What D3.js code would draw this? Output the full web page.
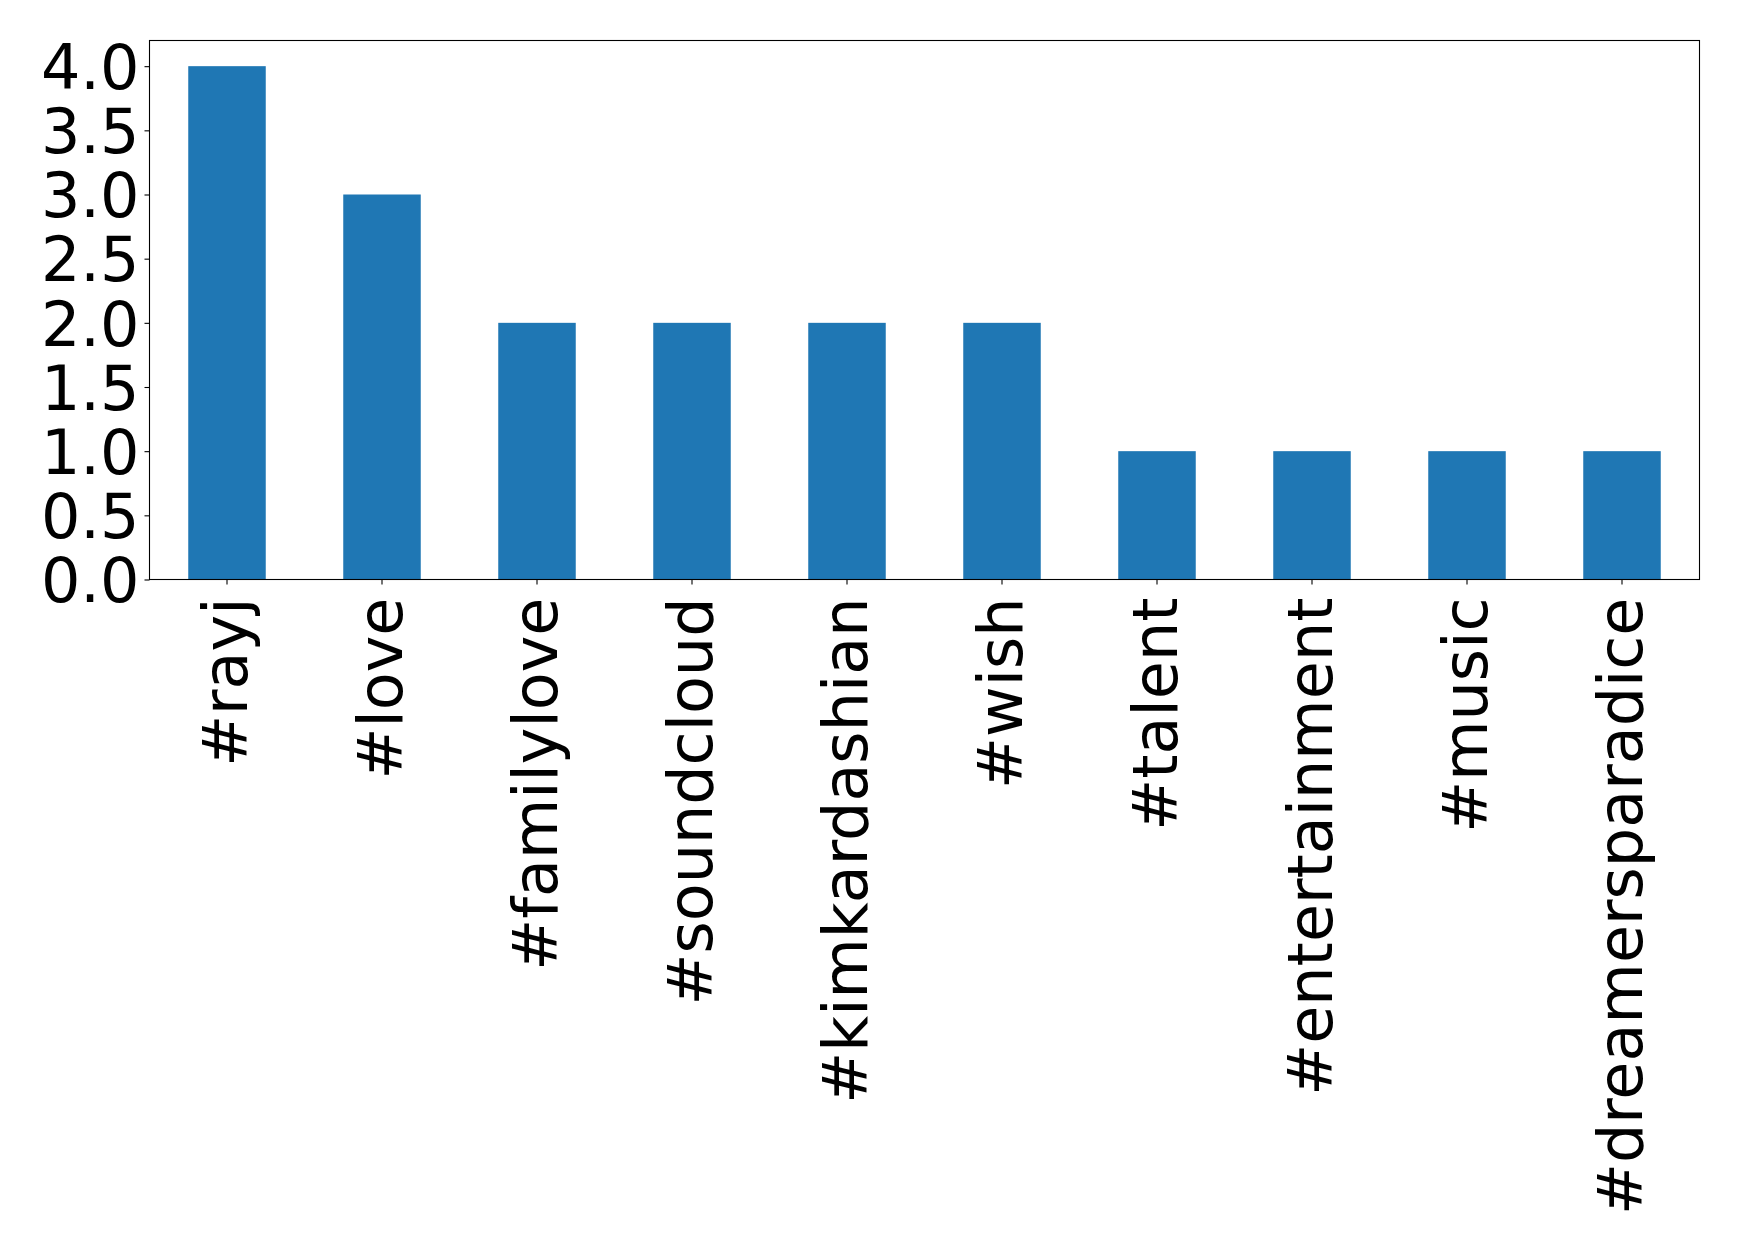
<!DOCTYPE html>
<html><head><meta charset="utf-8">
<script src="https://cdn.jsdelivr.net/npm/d3@7"></script>
<style>html,body{margin:0;padding:0;background:#fff;}svg{display:block;}</style>
</head><body>
<svg id="chart" width="1739" height="1251"></svg>
<script>
const categories = ["#rayj","#love","#familylove","#soundcloud","#kimkardashian","#wish","#talent","#entertainment","#music","#dreamersparadice"];
const values = [4,3,2,2,2,2,1,1,1,1];
const yTicks = [0,0.5,1,1.5,2,2.5,3,3.5,4];

const svg = d3.select("#chart");
const L = 149.5, R = 1699.5, T = 40.5, B = 579.5;
const font = "DejaVu Sans, sans-serif";

const x = d3.scaleBand().domain(categories).range([L, R]).paddingInner(0.5).paddingOuter(0.25);
const y = d3.scaleLinear().domain([0, 4.2]).range([B, T]);

svg.append("g").selectAll("rect").data(values).join("rect")
  .attr("x", (d,i) => x(categories[i]))
  .attr("width", x.bandwidth())
  .attr("y", d => y(d))
  .attr("height", d => y(0) - y(d))
  .attr("fill", "#1f77b4");

const yAxis = d3.axisLeft(y).tickValues(yTicks).tickFormat(d3.format(".1f")).tickSize(5).tickPadding(5);
const gy = svg.append("g").attr("transform", `translate(${L},0)`).call(yAxis);
gy.select(".domain").remove();
gy.selectAll("line").attr("stroke", "#000").attr("stroke-width", 1.1);
gy.selectAll("text").attr("font-family", font).attr("font-size", 62).attr("fill", "#000").attr("dy", "0.36em");

const xAxis = d3.axisBottom(x).tickSize(5).tickPadding(0);
const gx = svg.append("g").attr("transform", `translate(0,${B})`).call(xAxis);
gx.select(".domain").remove();
gx.selectAll("line").attr("stroke", "#000").attr("stroke-width", 1.1);
gx.selectAll("text")
  .attr("font-family", font).attr("font-size", 62).attr("fill", "#000")
  .attr("text-anchor", "end").attr("dy", null).attr("y", null)
  .attr("transform", "translate(20,18) rotate(-90)");

svg.append("rect").attr("x", L).attr("y", T).attr("width", R - L).attr("height", B - T)
  .attr("fill", "none").attr("stroke", "#000").attr("stroke-width", 1.1);
</script>
</body></html>
